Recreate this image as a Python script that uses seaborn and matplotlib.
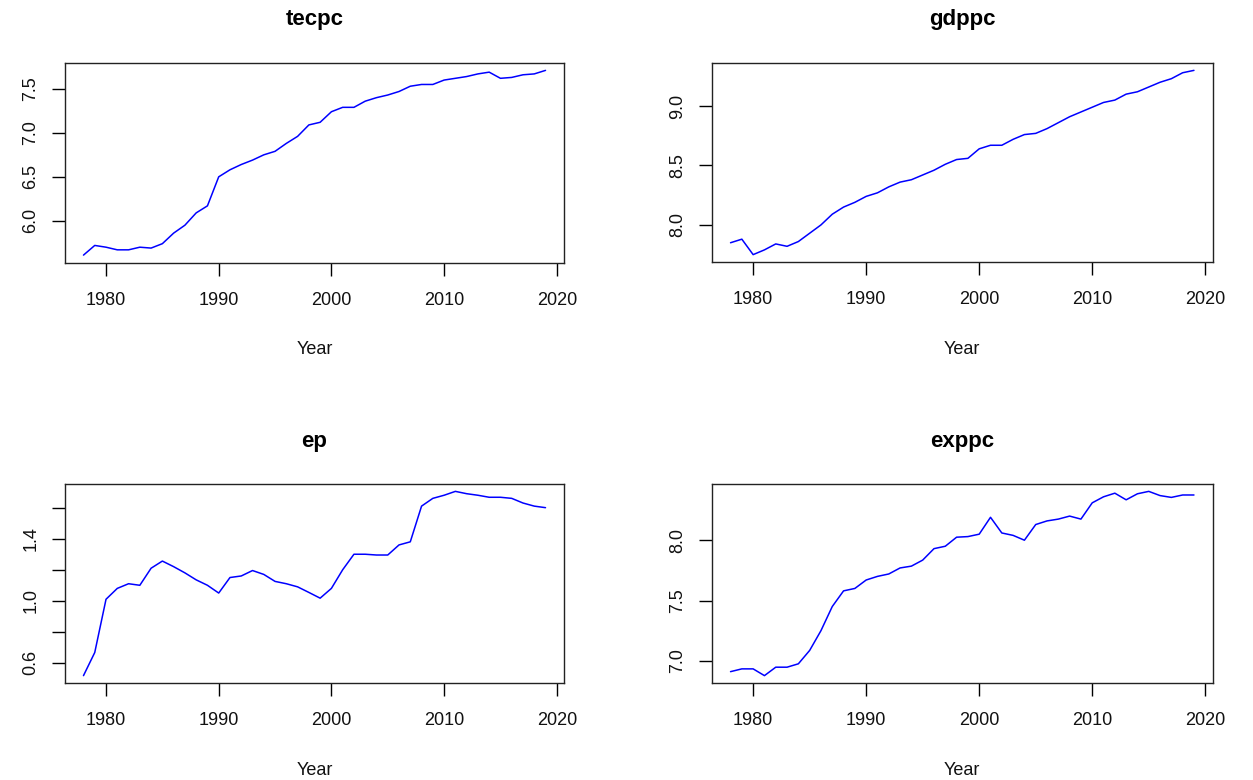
import matplotlib
matplotlib.use("Agg")
import matplotlib.pyplot as plt
import seaborn as sns
import pandas as pd
import numpy as np

years = list(range(1978, 2020))

tecpc = [5.61, 5.72, 5.70, 5.67, 5.67, 5.70, 5.69, 5.74, 5.86, 5.95,
         6.09, 6.17, 6.50, 6.58, 6.64, 6.69, 6.75, 6.79, 6.88, 6.96,
         7.09, 7.12, 7.24, 7.29, 7.29, 7.36, 7.40, 7.43, 7.47, 7.53,
         7.55, 7.55, 7.60, 7.62, 7.64, 7.67, 7.69, 7.62, 7.63, 7.66,
         7.67, 7.71]

gdppc = [7.85, 7.88, 7.75, 7.79, 7.84, 7.82, 7.86, 7.93, 8.00, 8.09,
         8.15, 8.19, 8.24, 8.27, 8.32, 8.36, 8.38, 8.42, 8.46, 8.51,
         8.55, 8.56, 8.64, 8.67, 8.67, 8.72, 8.76, 8.77, 8.81, 8.86,
         8.91, 8.95, 8.99, 9.03, 9.05, 9.10, 9.12, 9.16, 9.20, 9.23,
         9.28, 9.30]

ep = [0.518, 0.667, 1.01, 1.08, 1.11, 1.10, 1.21, 1.256, 1.22, 1.18,
      1.135, 1.10, 1.05, 1.15, 1.16, 1.195, 1.17, 1.125, 1.11, 1.09,
      1.054, 1.017, 1.08, 1.20, 1.30, 1.30, 1.295, 1.295, 1.36, 1.38,
      1.61, 1.66, 1.68, 1.705, 1.69, 1.68, 1.667, 1.667, 1.66, 1.63,
      1.61, 1.60]

exppc = [6.91, 6.933, 6.933, 6.877, 6.947, 6.947, 6.975, 7.086, 7.25, 7.45,
         7.58, 7.60, 7.67, 7.70, 7.72, 7.77, 7.785, 7.835, 7.93, 7.95,
         8.025, 8.03, 8.05, 8.19, 8.06, 8.04, 8.00, 8.13, 8.16, 8.175,
         8.20, 8.175, 8.31, 8.36, 8.39, 8.335, 8.385, 8.405, 8.37, 8.355,
         8.375, 8.375]

year_ticks = [1980, 1990, 2000, 2010, 2020]
tecpc_ticks = [6.0, 6.5, 7.0, 7.5]
gdppc_ticks = [8.0, 8.5, 9.0]
ep_ticks = [0.6, 0.8, 1.0, 1.2, 1.4, 1.6]
ep_tick_labels = ["0.6", "", "1.0", "", "1.4", ""]
exppc_ticks = [7.0, 7.5, 8.0]

df = pd.DataFrame({"Year": years, "tecpc": tecpc, "gdppc": gdppc,
                   "ep": ep, "exppc": exppc})

sns.set_style("white")
plt.rcParams["font.family"] = ["Liberation Sans", "DejaVu Sans"]
plt.rcParams["text.color"] = "black"
plt.rcParams["axes.labelcolor"] = "black"

W, H = 1253, 780
fig = plt.figure(figsize=(W / 100, H / 100), dpi=100)


def add_panel(left, right, top, bottom):
    return fig.add_axes([left / W, 1 - bottom / H, (right - left) / W, (bottom - top) / H])


panels = [
    ("tecpc", (65, 564, 63, 262.5), tecpc_ticks, None),
    ("gdppc", (712, 1212.5, 63, 262), gdppc_ticks, None),
    ("ep", (65, 564, 484, 683), ep_ticks, ep_tick_labels),
    ("exppc", (712, 1212.5, 484, 683), exppc_ticks, None),
]

for name, box, yt, ytl in panels:
    ax = add_panel(*box)
    sns.lineplot(data=df, x="Year", y=name, ax=ax, color="#0000FF", linewidth=1.1)
    ax.margins(x=0.04, y=0.04)
    ax.set_xticks(year_ticks)
    ax.set_xticklabels([str(y) for y in year_ticks])
    ax.set_xlim(1978 - 0.04 * 41, 2019 + 0.04 * 41)
    ax.set_yticks(yt)
    if ytl is None:
        ax.set_yticklabels([f"{v:.1f}" for v in yt])
    else:
        ax.set_yticklabels(ytl)
    for lab in ax.get_yticklabels():
        lab.set_rotation(90)
        lab.set_va("center")
    ax.tick_params(axis="both", direction="out", length=9.4, width=1.0,
                   color="black", labelsize=13, labelcolor="#111111")
    ax.tick_params(axis="x", bottom=True, pad=11.5)
    ax.tick_params(axis="y", left=True, pad=9)
    for sp in ax.spines.values():
        sp.set_color("#222222")
        sp.set_linewidth(1.0)
    ax.set_title(name, fontsize=16, fontweight="bold", pad=27, color="black")
    ax.set_xlabel("Year", fontsize=13, color="#111111")
    ax.set_ylabel("")
    height_px = box[3] - box[2]
    ax.xaxis.set_label_coords(0.5, -79.0 / height_px)

fig.savefig("out.png", dpi=100, facecolor="white")
